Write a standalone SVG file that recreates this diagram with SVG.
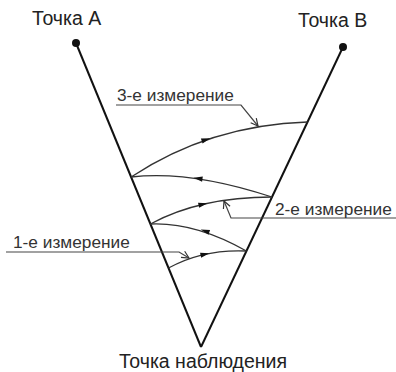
<svg xmlns="http://www.w3.org/2000/svg" width="396" height="372" viewBox="0 0 396 372">
<defs>
<style>
.t{font-family:"Liberation Sans",Arial,sans-serif;font-size:19.5px;fill:#222}
.l{font-family:"Liberation Sans",Arial,sans-serif;font-size:17.3px;fill:#333}
.main{stroke:#111;stroke-width:2;fill:none}
.ray{stroke:#333;stroke-width:1.3;fill:none}
.lead{stroke:#444;stroke-width:1.2;fill:none}
</style>
<marker id="open" viewBox="0 0 10 10" refX="9" refY="5" markerWidth="9" markerHeight="9" markerUnits="userSpaceOnUse" orient="auto">
<path d="M1,1 L9,5 L1,9" fill="none" stroke="#333" stroke-width="1.3"/>
</marker>
<polygon id="ah" points="4.5,0 -4.5,-2.6 -4.5,2.6" fill="#111"/>
</defs>
<g id="lineA"><line class="main" x1="76" y1="43" x2="201" y2="347"/><circle cx="76" cy="43" r="4" fill="#111"/></g>
<g id="lineB"><line class="main" x1="343" y1="47" x2="201" y2="347"/><circle cx="343" cy="47" r="4" fill="#111"/></g>
<g id="connectors">
<path class="ray" d="M168.5,268 Q203,249 246.4,251"/>
<use href="#ah" transform="translate(205,254.3) rotate(-12.3)"/>
<path class="ray" d="M246.4,251 Q195,222 150.4,224"/>
<use href="#ah" transform="translate(205,231) rotate(198)"/>
<path class="ray" d="M150.4,224 Q200,197 272,197"/>
<use href="#ah" transform="translate(203,204.3) rotate(-13)"/>
<path class="ray" d="M272,197 Q190,170 131.1,177"/>
<use href="#ah" transform="translate(198,178.5) rotate(188)"/>
<path class="ray" d="M131.1,177 Q210,125 307.5,122"/>
<use href="#ah" transform="translate(206,139.6) rotate(-19)"/>
<polyline class="lead" points="116,105 241,105 258,126" marker-end="url(#open)"/>
<polyline class="lead" points="396,218 231,218 224,201" marker-end="url(#open)"/>
<polyline class="lead" points="6,252 179,252 189,258" marker-end="url(#open)"/>
</g>
<g id="labels">
<text class="t" x="32" y="25">Точка А</text>
<text class="t" x="298" y="27">Точка В</text>
<text class="t" x="203" y="368" text-anchor="middle">Точка наблюдения</text>
<text class="l" x="117" y="101">3-е измерение</text>
<text class="l" x="275" y="215">2-е измерение</text>
<text class="l" x="13" y="248">1-е измерение</text>
</g>
</svg>
